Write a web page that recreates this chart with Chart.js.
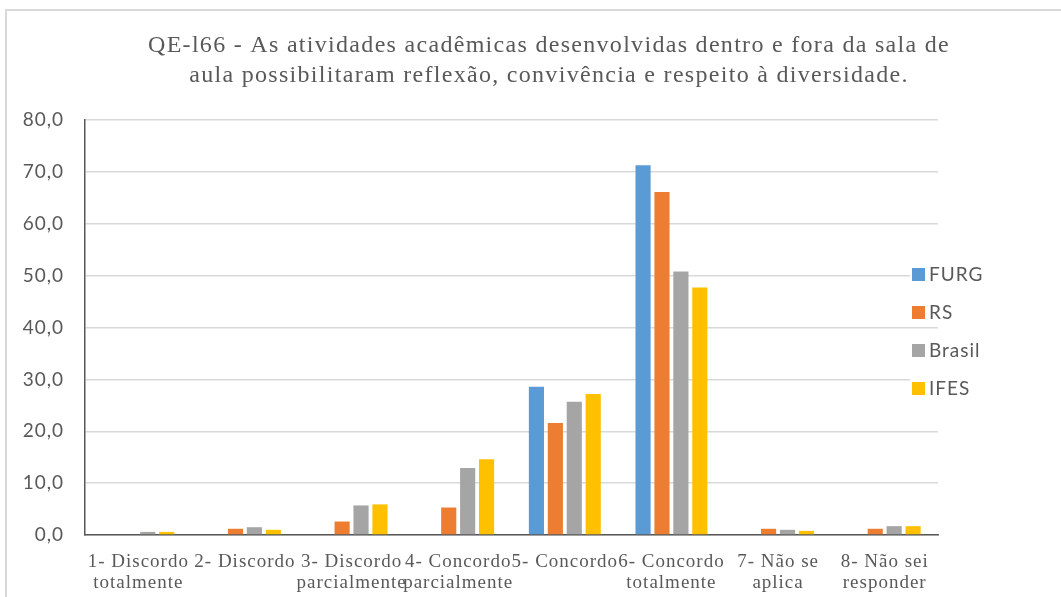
<!DOCTYPE html>
<html lang="pt">
  <head>
    <meta charset="UTF-8" />
    <title>QE-l66</title>
    <script src="https://cdn.jsdelivr.net/npm/chart.js"></script>
    <style>
        html, body {
            margin: 0;
            padding: 0;
            background: #fff;
        }
        .frame {
            position: absolute;
            left: 5px;
            top: 9px;
            width: 1100px;
            height: 700px;
            border-top: 2px solid #d9d9d9;
            border-left: 2px solid #d9d9d9;
        }
        .wrap {
            position: absolute;
            left: 0;
            top: 0;
            width: 1061px;
            height: 597px;
        }
    </style>
  </head>

  <body>
    <div class="frame"></div>
    <div class="wrap">
        <canvas id="chart" width="1061" height="597"></canvas>
    </div>

    <script>
        // Data
        const title = [
            'QE-l66 - As atividades acadêmicas desenvolvidas dentro e fora da sala de',
            'aula possibilitaram reflexão, convivência e respeito à diversidade.'
        ];
        const categories = [
            ['1- Discordo', 'totalmente'],
            '2- Discordo',
            ['3- Discordo', 'parcialmente'],
            ['4- Concordo', 'parcialmente'],
            '5- Concordo',
            ['6- Concordo', 'totalmente'],
            ['7- Não se', 'aplica'],
            ['8- Não sei', 'responder']
        ];
        const furg   = [0.0, 0.0, 0.0, 0.0, 28.6, 71.3, 0.0, 0.0];
        const rs     = [0.0, 1.2, 2.6, 5.3, 21.6, 66.1, 1.2, 1.2];
        const brasil = [0.6, 1.5, 5.7, 12.9, 25.7, 50.8, 1.0, 1.7];
        const ifes   = [0.6, 1.0, 5.9, 14.6, 27.2, 47.7, 0.8, 1.7];
        const yTicks = [0, 10, 20, 30, 40, 50, 60, 70, 80];

        const grey = '#595959';

        // Excel-like rendering: slightly wide text,
        // title centred on the whole frame and legend inside the plot
        const excelLook = {
            id: 'excelLook',
            beforeDraw(chart) {
                chart.ctx.letterSpacing = '1px';
            },
            afterDraw(chart) {
                const ctx = chart.ctx;
                ctx.save();

                // title
                ctx.letterSpacing = '1.3px';
                ctx.font = '24px "Liberation Serif"';
                ctx.fillStyle = grey;
                ctx.textAlign = 'center';
                ctx.textBaseline = 'middle';
                title.forEach((line, i) => ctx.fillText(line, 549, 46 + i * 30));

                // legend
                ctx.letterSpacing = '1px';
                ctx.font = '19px Lato';
                ctx.textAlign = 'left';
                chart.data.datasets.forEach((ds, i) => {
                    const y = 274 + i * 38;
                    ctx.fillStyle = '#fff';
                    ctx.fillRect(910, y - 10, 80, 20);
                    ctx.fillStyle = ds.backgroundColor;
                    ctx.fillRect(912, y - 6, 13, 13);
                    ctx.fillStyle = grey;
                    ctx.fillText(ds.label, 929, y + 1);
                });
                ctx.restore();
                ctx.letterSpacing = '0px';
            }
        };

        new Chart(document.getElementById('chart'), {
            type: 'bar',
            data: {
                labels: categories,
                datasets: [
                    { label: 'FURG', data: furg, backgroundColor: '#5B9BD5' },
                    { label: 'RS', data: rs, backgroundColor: '#ED7D31' },
                    { label: 'Brasil', data: brasil, backgroundColor: '#A5A5A5' },
                    { label: 'IFES', data: ifes, backgroundColor: '#FFC000' }
                ]
            },
            options: {
                responsive: false,
                animation: false,
                layout: {
                    padding: { left: 6, right: 123, top: 120, bottom: 0 }
                },
                datasets: {
                    bar: {
                        categoryPercentage: 0.71,
                        barPercentage: 0.8
                    }
                },
                plugins: {
                    legend: { display: false },
                    tooltip: { enabled: false },
                    title: { display: false }
                },
                scales: {
                    x: {
                        grid: { display: false, drawTicks: false },
                        border: { color: grey, width: 1.5 },
                        ticks: {
                            color: grey,
                            font: { family: 'Liberation Serif', size: 19, lineHeight: 1.12 },
                            maxRotation: 0,
                            autoSkip: false,
                            padding: 16
                        },
                        afterFit(scale) { scale.height = 62; }
                    },
                    y: {
                        min: 0,
                        max: 80,
                        afterBuildTicks(scale) {
                            scale.ticks = yTicks.map(v => ({ value: v }));
                        },
                        grid: { color: '#d9d9d9', lineWidth: 1.5, drawTicks: false },
                        border: { color: grey, width: 1.5 },
                        ticks: {
                            color: grey,
                            font: { family: 'Lato', size: 19 },
                            padding: 21,
                            callback: v => v.toFixed(1).replace('.', ',')
                        },
                        afterFit(scale) { scale.width = 79; }
                    }
                }
            },
            plugins: [excelLook]
        });
    </script>
  </body>
</html>
